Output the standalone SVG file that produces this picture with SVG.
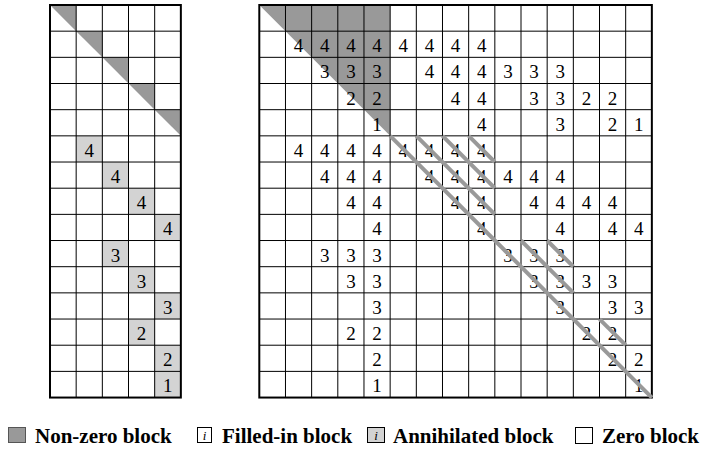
<svg xmlns="http://www.w3.org/2000/svg" width="702" height="449" viewBox="0 0 702 449">
<style>
.bg{fill:#ffffff}
.dark{fill:#999999}
.light{fill:#d3d3d3}
.grid{fill:none;stroke:#000000;stroke-width:1}
.border{fill:none;stroke:#000000;stroke-width:2}
.num{font-family:"Liberation Serif","Times New Roman",serif;font-size:19px;fill:#000000;text-anchor:middle}
.stripe{stroke:#999999;stroke-width:4;stroke-linecap:butt;fill:none}
.leg{font-family:"Liberation Serif","Times New Roman",serif;font-size:21px;font-weight:bold;fill:#000000}
.ico{font-family:"Liberation Serif","Times New Roman",serif;font-size:13px;font-style:italic;fill:#000000;text-anchor:middle}
.box{stroke:#000000;stroke-width:1}
</style>
<rect x="0" y="0" width="702" height="449" fill="#ffffff"/>

<g id="left-matrix">
  <rect class="bg" x="50" y="5" width="130.85" height="392.55"/>
  <g class="dark">
    <polygon points="50,5 76.17,5 76.17,31.17"/>
    <polygon points="76.17,31.17 102.34,31.17 102.34,57.34"/>
    <polygon points="102.34,57.34 128.51,57.34 128.51,83.51"/>
    <polygon points="128.51,83.51 154.68,83.51 154.68,109.68"/>
    <polygon points="154.68,109.68 180.85,109.68 180.85,135.85"/>
  </g>
  <g class="light">
    <rect x="76.17" y="135.85" width="26.17" height="26.17"/>
    <rect x="102.34" y="162.02" width="26.17" height="26.17"/>
    <rect x="128.51" y="188.19" width="26.17" height="26.17"/>
    <rect x="154.68" y="214.36" width="26.17" height="26.17"/>
    <rect x="102.34" y="240.53" width="26.17" height="26.17"/>
    <rect x="128.51" y="266.7" width="26.17" height="26.17"/>
    <rect x="154.68" y="292.87" width="26.17" height="26.17"/>
    <rect x="128.51" y="319.04" width="26.17" height="26.17"/>
    <rect x="154.68" y="345.21" width="26.17" height="26.17"/>
    <rect x="154.68" y="371.38" width="26.17" height="26.17"/>
  </g>
  <path class="grid" d="M76.17,5V397.55M102.34,5V397.55M128.51,5V397.55M154.68,5V397.55
    M50,31.17H180.85M50,57.34H180.85M50,83.51H180.85M50,109.68H180.85M50,135.85H180.85
    M50,162.02H180.85M50,188.19H180.85M50,214.36H180.85M50,240.53H180.85M50,266.7H180.85
    M50,292.87H180.85M50,319.04H180.85M50,345.21H180.85M50,371.38H180.85"/>
  <g class="num">
    <text x="89.26" y="156.85">4</text>
    <text x="115.43" y="183.02">4</text>
    <text x="141.6" y="209.19">4</text>
    <text x="167.77" y="235.36">4</text>
    <text x="115.43" y="261.53">3</text>
    <text x="141.6" y="287.7">3</text>
    <text x="167.77" y="313.87">3</text>
    <text x="141.6" y="340.04">2</text>
    <text x="167.77" y="366.21">2</text>
    <text x="167.77" y="392.38">1</text>
  </g>
  <rect class="border" x="50" y="5" width="130.85" height="392.55"/>
</g>

<g id="right-matrix">
  <rect class="bg" x="259.3" y="5" width="392.55" height="392.55"/>
  <polygon class="dark" points="259.3,5 390.15,5 390.15,135.85"/>
  <path class="grid" d="M285.47,5V397.55M311.64,5V397.55M337.81,5V397.55M363.98,5V397.55M390.15,5V397.55
    M416.32,5V397.55M442.49,5V397.55M468.66,5V397.55M494.83,5V397.55M521,5V397.55
    M547.17,5V397.55M573.34,5V397.55M599.51,5V397.55M625.68,5V397.55
    M259.3,31.17H651.85M259.3,57.34H651.85M259.3,83.51H651.85M259.3,109.68H651.85M259.3,135.85H651.85
    M259.3,162.02H651.85M259.3,188.19H651.85M259.3,214.36H651.85M259.3,240.53H651.85M259.3,266.7H651.85
    M259.3,292.87H651.85M259.3,319.04H651.85M259.3,345.21H651.85M259.3,371.38H651.85"/>
  <g class="num">
    <text x="298.56" y="52.17">4</text><text x="324.73" y="52.17">4</text><text x="350.9" y="52.17">4</text><text x="377.07" y="52.17">4</text>
    <text x="403.24" y="52.17">4</text><text x="429.41" y="52.17">4</text><text x="455.58" y="52.17">4</text><text x="481.75" y="52.17">4</text>
    <text x="324.73" y="78.34">3</text><text x="350.9" y="78.34">3</text><text x="377.07" y="78.34">3</text>
    <text x="429.41" y="78.34">4</text><text x="455.58" y="78.34">4</text><text x="481.75" y="78.34">4</text>
    <text x="507.92" y="78.34">3</text><text x="534.09" y="78.34">3</text><text x="560.26" y="78.34">3</text>
    <text x="350.9" y="104.51">2</text><text x="377.07" y="104.51">2</text>
    <text x="455.58" y="104.51">4</text><text x="481.75" y="104.51">4</text>
    <text x="534.09" y="104.51">3</text><text x="560.26" y="104.51">3</text>
    <text x="586.43" y="104.51">2</text><text x="612.6" y="104.51">2</text>
    <text x="377.07" y="130.68">1</text><text x="481.75" y="130.68">4</text><text x="560.26" y="130.68">3</text>
    <text x="612.6" y="130.68">2</text><text x="638.77" y="130.68">1</text>
    <text x="298.56" y="156.85">4</text><text x="324.73" y="156.85">4</text><text x="350.9" y="156.85">4</text><text x="377.07" y="156.85">4</text>
    <text x="403.24" y="156.85">4</text><text x="429.41" y="156.85">4</text><text x="455.58" y="156.85">4</text><text x="481.75" y="156.85">4</text>
    <text x="324.73" y="183.02">4</text><text x="350.9" y="183.02">4</text><text x="377.07" y="183.02">4</text>
    <text x="429.41" y="183.02">4</text><text x="455.58" y="183.02">4</text><text x="481.75" y="183.02">4</text>
    <text x="507.92" y="183.02">4</text><text x="534.09" y="183.02">4</text><text x="560.26" y="183.02">4</text>
    <text x="350.9" y="209.19">4</text><text x="377.07" y="209.19">4</text>
    <text x="455.58" y="209.19">4</text><text x="481.75" y="209.19">4</text>
    <text x="534.09" y="209.19">4</text><text x="560.26" y="209.19">4</text>
    <text x="586.43" y="209.19">4</text><text x="612.6" y="209.19">4</text>
    <text x="377.07" y="235.36">4</text><text x="481.75" y="235.36">4</text><text x="560.26" y="235.36">4</text>
    <text x="612.6" y="235.36">4</text><text x="638.77" y="235.36">4</text>
    <text x="324.73" y="261.53">3</text><text x="350.9" y="261.53">3</text><text x="377.07" y="261.53">3</text>
    <text x="507.92" y="261.53">3</text><text x="534.09" y="261.53">3</text><text x="560.26" y="261.53">3</text>
    <text x="350.9" y="287.7">3</text><text x="377.07" y="287.7">3</text>
    <text x="534.09" y="287.7">3</text><text x="560.26" y="287.7">3</text>
    <text x="586.43" y="287.7">3</text><text x="612.6" y="287.7">3</text>
    <text x="377.07" y="313.87">3</text><text x="560.26" y="313.87">3</text>
    <text x="612.6" y="313.87">3</text><text x="638.77" y="313.87">3</text>
    <text x="350.9" y="340.04">2</text><text x="377.07" y="340.04">2</text>
    <text x="586.43" y="340.04">2</text><text x="612.6" y="340.04">2</text>
    <text x="377.07" y="366.21">2</text><text x="612.6" y="366.21">2</text><text x="638.77" y="366.21">2</text>
    <text x="377.07" y="392.38">1</text><text x="638.77" y="392.38">1</text>
  </g>
  <rect class="border" x="259.3" y="5" width="392.55" height="392.55"/>
</g>

<g id="annihilated-stripes">
  <line class="stripe" x1="390.15" y1="135.85" x2="651.85" y2="397.55"/>
  <line class="stripe" x1="416.32" y1="135.85" x2="494.83" y2="214.36"/>
  <line class="stripe" x1="442.49" y1="135.85" x2="494.83" y2="188.19"/>
  <line class="stripe" x1="468.66" y1="135.85" x2="494.83" y2="162.02"/>
  <line class="stripe" x1="521" y1="240.53" x2="573.34" y2="292.87"/>
  <line class="stripe" x1="547.17" y1="240.53" x2="573.34" y2="266.7"/>
  <line class="stripe" x1="599.51" y1="319.04" x2="625.68" y2="345.21"/>
</g>

<g id="legend">
  <g id="legend-nonzero">
    <rect x="8.5" y="427.5" width="17" height="15" fill="#999999" stroke="#555555" stroke-width="1"/>
    <text class="leg" x="35" y="443">Non-zero block</text>
  </g>
  <g id="legend-filled">
    <rect class="box" x="197.5" y="427.5" width="14" height="15" fill="#ffffff"/>
    <text class="ico" x="204.5" y="439.5">i</text>
    <text class="leg" x="222" y="443">Filled-in block</text>
  </g>
  <g id="legend-annihilated">
    <rect class="box" x="367.5" y="427.5" width="17" height="15" fill="#d3d3d3"/>
    <text class="ico" x="376" y="439.5">i</text>
    <text class="leg" x="393" y="443">Annihilated block</text>
  </g>
  <g id="legend-zero">
    <rect class="box" x="575.5" y="427.5" width="17" height="16" fill="#ffffff"/>
    <text class="leg" x="602" y="443">Zero block</text>
  </g>
</g>
</svg>
